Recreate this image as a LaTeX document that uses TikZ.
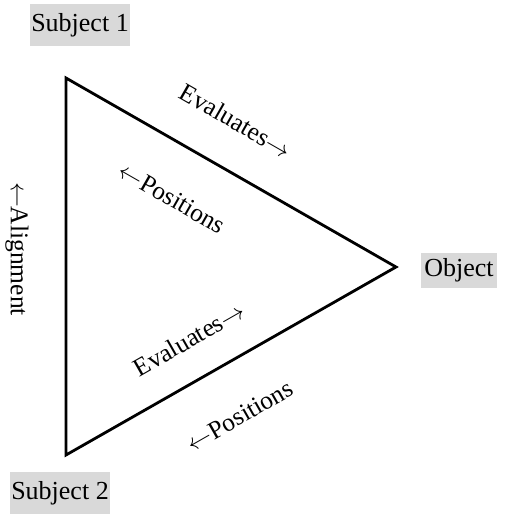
\documentclass[tikz,border=0pt]{standalone}
\usepackage{fontspec}
\setmainfont{Liberation Serif}
\newcommand{\rarr}{\ensuremath{\rightarrow}}
\newcommand{\larr}{\ensuremath{\leftarrow}}
\tikzset{
  labelbox/.style={fill=boxgray, inner sep=0pt, font=\fontsize{26}{30}\selectfont},
  edgetext/.style={inner sep=0pt, font=\fontsize{25.5}{28}\selectfont},
  tri/.style={line width=2.8pt, line join=miter}
}
\definecolor{boxgray}{HTML}{D9D9D9}
\begin{document}
\begin{tikzpicture}[x=1pt,y=-1pt]
\useasboundingbox (0,0) rectangle (510,518);
\coordinate (A) at (66,78);
\coordinate (B) at (396,267);
\coordinate (C) at (66,455);
\draw[tri] (A) -- (B) -- (C) -- cycle;
\node[labelbox, minimum width=100pt, minimum height=42pt] (s1) at (80,25) {Subject 1};
\node[labelbox, minimum width=100pt, minimum height=42pt] (s2) at (60,493) {Subject 2};
\node[labelbox, minimum width=76pt, minimum height=35pt] (obj) at (459,270.5) {Object};
\node[edgetext, rotate=-29.8] (ev1) at (236,121) {Evaluates\rarr};
\node[edgetext, rotate=-29.8] (po1) at (172,198) {\larr Positions};
\node[edgetext, rotate=29.7] (ev2) at (189,339) {Evaluates\rarr};
\node[edgetext, rotate=29.7] (po2) at (240,416) {\larr Positions};
\node[edgetext, rotate=-90] (al) at (17,249) {\larr Alignment};
\end{tikzpicture}
\end{document}
